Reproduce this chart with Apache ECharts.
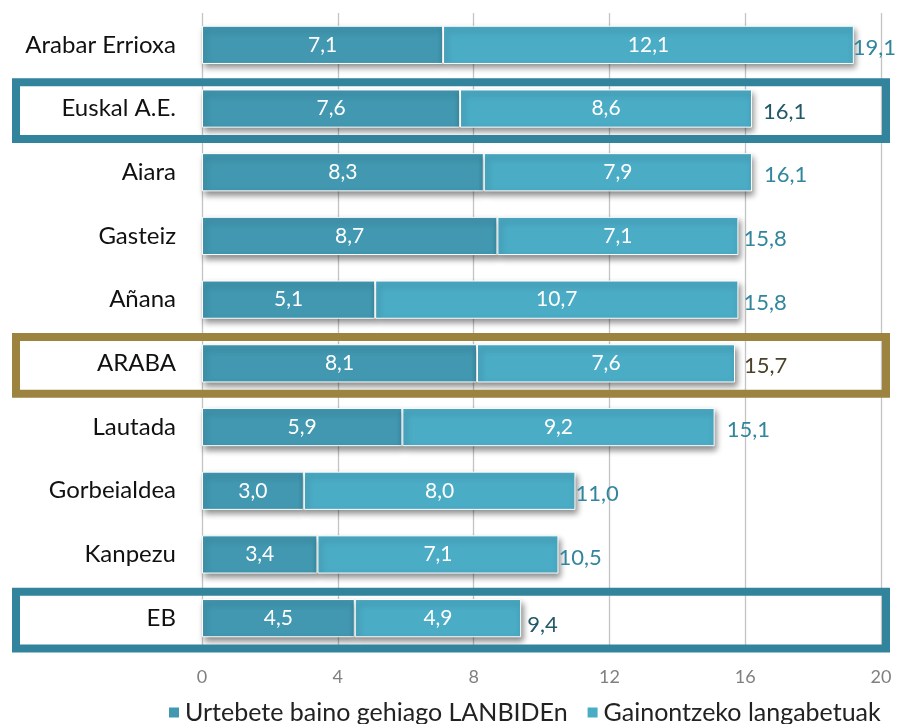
<!DOCTYPE html>
<html>
<head>
<meta charset="utf-8">
<script src="https://cdn.jsdelivr.net/npm/echarts@6/dist/echarts.min.js"></script>
<style>
  html, body { margin: 0; padding: 0; background: #fff; }
  #chart { width: 899px; height: 724px; }
</style>
</head>
<body>
<div id="chart"></div>
<script>
// Regions, top to bottom
const categories = ['Arabar Errioxa', 'Euskal A.E.', 'Aiara', 'Gasteiz', 'Añana', 'ARABA', 'Lautada', 'Gorbeialdea', 'Kanpezu', 'EB'];
// Long-term unemployed registered at LANBIDE (more than one year)
const longTerm = [7.1, 7.6, 8.3, 8.7, 5.1, 8.1, 5.9, 3.0, 3.4, 4.5];
// Other unemployed
const others = [12.1, 8.6, 7.9, 7.1, 10.7, 7.6, 9.2, 8.0, 7.1, 4.9];
// Published totals
const totals = [19.1, 16.1, 16.1, 15.8, 15.8, 15.7, 15.1, 11.0, 10.5, 9.4];
const xTicks = [0, 4, 8, 12, 16, 20];
const seriesNames = ['Urtebete baino gehiago LANBIDEn', 'Gainontzeko langabetuak'];

// Highlighted rows and their frame colours
const highlights = { 'Euskal A.E.': '#31849B', 'ARABA': '#9C8440', 'EB': '#31849B' };
const totalColors = { 'Euskal A.E.': '#1F5869', 'ARABA': '#4A4329', 'EB': '#215968' };
// Horizontal gap (px) between each bar end and its total label
const totalGaps = [0, 12, 13, 6, 6, 10, 13, 1, 1, 7];

const FONT = 'Lato';
const fmt = v => v.toFixed(1).replace('.', ',');

const chart = echarts.init(document.getElementById('chart'));

const shadow = {
  shadowColor: 'rgba(0,0,0,0.45)',
  shadowBlur: 6,
  shadowOffsetX: 2,
  shadowOffsetY: 4
};

chart.setOption({
  animation: false,
  textStyle: { fontFamily: FONT },
  grid: { left: 202, right: 18, top: 13, bottom: 74, containLabel: false },
  legend: {
    bottom: -6,
    left: 162,
    width: 760,
    orient: 'horizontal',
    icon: 'rect',
    itemWidth: 12,
    itemHeight: 12,
    itemGap: 18,
    textStyle: { fontFamily: FONT, fontSize: 25, color: '#222' },
    data: seriesNames
  },
  xAxis: {
    type: 'value',
    min: xTicks[0],
    max: xTicks[xTicks.length - 1],
    interval: 4,
    axisLine: { show: false },
    axisTick: { show: false },
    axisLabel: { fontFamily: FONT, fontSize: 18, color: '#808080', margin: 18 },
    splitLine: { lineStyle: { color: '#C4C4C4', width: 1.3 } }
  },
  yAxis: {
    type: 'category',
    inverse: true,
    data: categories,
    axisLine: { show: false },
    axisTick: { show: false },
    axisLabel: { fontFamily: FONT, fontSize: 24, color: '#111', margin: 26 }
  },
  series: [
    {
      name: seriesNames[0],
      type: 'bar',
      stack: 'total',
      barWidth: '60%',
      itemStyle: Object.assign({ color: '#4198B0', borderColor: '#fff', borderWidth: 1 }, shadow),
      label: {
        show: true,
        position: 'inside',
        color: '#fff',
        fontFamily: FONT,
        fontSize: 21,
        formatter: p => fmt(p.value)
      },
      data: longTerm
    },
    {
      name: seriesNames[1],
      type: 'bar',
      stack: 'total',
      barWidth: '60%',
      itemStyle: Object.assign({ color: '#4BACC6', borderColor: '#fff', borderWidth: 1 }, shadow),
      label: {
        show: true,
        position: 'inside',
        color: '#fff',
        fontFamily: FONT,
        fontSize: 21,
        formatter: p => fmt(p.value)
      },
      data: others
    },
    {
      // Total labels placed at the end of each stacked bar
      name: 'total',
      type: 'bar',
      stack: 'total',
      barWidth: '60%',
      silent: true,
      itemStyle: { color: 'transparent' },
      label: {
        show: true,
        position: 'insideLeft',
        distance: 0,
        fontFamily: FONT,
        fontSize: 22,
        formatter: p => fmt(totals[p.dataIndex])
      },
      data: categories.map((c, i) => ({
        value: 0.0001,
        label: {
          color: totalColors[c] || '#31869D',
          offset: [totalGaps[i] - 1, c === 'EB' ? 7 : 3]
        }
      }))
    }
  ]
});

// Frames around highlighted rows
function drawFrames() {
  const x20 = chart.convertToPixel({ xAxisIndex: 0 }, xTicks[xTicks.length - 1]);
  const c0 = chart.convertToPixel({ yAxisIndex: 0 }, categories[0]);
  const c1 = chart.convertToPixel({ yAxisIndex: 0 }, categories[1]);
  const band = Math.abs(c1 - c0);
  const lw = 8;
  const left = 12 + lw / 2;
  const right = x20 + 9 - lw / 2;
  const h = band - lw + 1;
  const elements = Object.keys(highlights).map(name => {
    const cy = chart.convertToPixel({ yAxisIndex: 0 }, name) + 2;
    return {
      type: 'rect',
      z: 100,
      silent: true,
      shape: { x: left, y: cy - h / 2, width: right - left, height: h },
      style: { fill: null, stroke: highlights[name], lineWidth: lw }
    };
  });
  chart.setOption({ graphic: { elements } });
}
drawFrames();
</script>
</body>
</html>
